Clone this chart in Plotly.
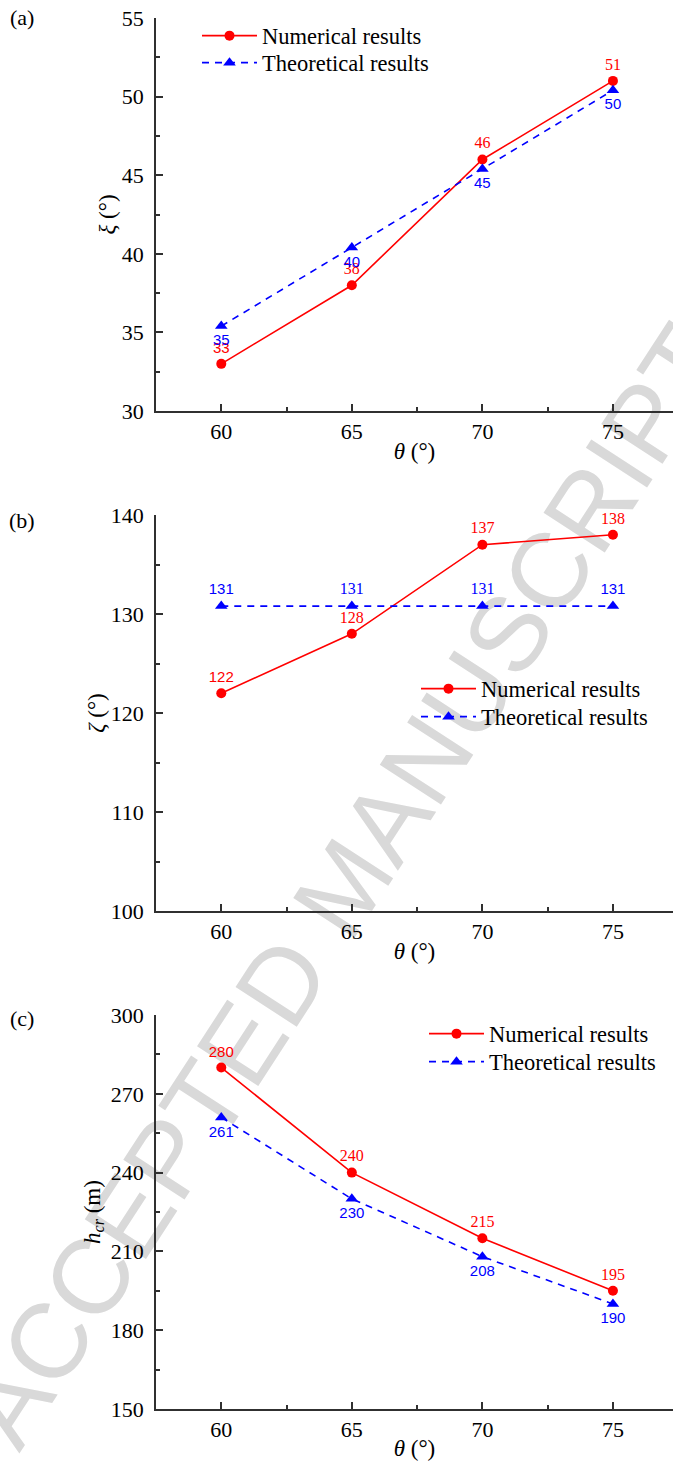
import plotly.graph_objects as go

# ---- data -------------------------------------------------------------
theta = [60, 65, 70, 75]

xi_numerical = [33, 38, 46, 51]
xi_theoretical = [35.4, 40.4, 45.4, 50.4]

zeta_numerical = [122, 128, 137, 138]
zeta_theoretical = [130.8, 130.8, 130.8, 130.8]

hcr_numerical = [280, 240, 215, 195]
hcr_theoretical = [261, 230, 208, 190]

x_tick_values = [60, 65, 70, 75]
series_names = ["Numerical results", "Theoretical results"]
panel_tags = ["(a)", "(b)", "(c)"]

# ---- styling ----------------------------------------------------------
W, H = 673, 1461
L_MARGIN = 156
PLOT_W = W - L_MARGIN
SERIF = "Liberation Serif"
SANS = "Liberation Sans"
RED = "#ff0000"
BLUE = "#0000ff"
AXIS_COLOR = "#303030"
TICK_SIZE = 22
TITLE_SIZE = 23
LEGEND_SIZE = 22.5


def px_x(px):
    return (px - L_MARGIN) / PLOT_W


def px_y(py):
    return 1 - py / H


panels = [
    dict(num=xi_numerical, theo=xi_theoretical, top=18, bottom=411,
         yrange=[30, 55], dtick=5, minor=2.5,
         ytitle="<i>ξ</i> (°)", ytitle_gap=0,
         theo_pos="bottom center",
         num_fonts=[SANS, SERIF, SERIF, SERIF],
         theo_fonts=[SANS, SANS, SANS, SANS],
         legend_x=202, legend_rows=(36, 63), tag_y=18),
    dict(num=zeta_numerical, theo=zeta_theoretical, top=515, bottom=911,
         yrange=[100, 140], dtick=10, minor=5,
         ytitle="<i>ζ</i> (°)", ytitle_gap=0,
         theo_pos="top center",
         num_fonts=[SANS, SERIF, SERIF, SERIF],
         theo_fonts=[SANS, SERIF, SERIF, SANS],
         legend_x=421, legend_rows=(689, 717), tag_y=520),
    dict(num=hcr_numerical, theo=hcr_theoretical, top=1015, bottom=1409,
         yrange=[150, 300], dtick=30, minor=15,
         ytitle="<i>h<sub>cr</sub></i> (m)", ytitle_gap=4,
         theo_pos="bottom center",
         num_fonts=[SANS, SERIF, SERIF, SERIF],
         theo_fonts=[SANS, SANS, SANS, SANS],
         legend_x=429, legend_rows=(1034, 1062), tag_y=1018),
]


def label_sizes(fonts):
    return [15 if f == SANS else 16 for f in fonts]


fig = go.Figure()
layout = dict(
    width=W, height=H,
    margin=dict(l=L_MARGIN, r=0, t=0, b=0, autoexpand=False),
    paper_bgcolor="white", plot_bgcolor="white",
    font=dict(family=SERIF, size=TICK_SIZE, color="black"),
    showlegend=True,
    annotations=[], shapes=[],
)

legend_index = 0
for i, p in enumerate(panels):
    n = "" if i == 0 else str(i + 1)
    xa, ya = "x" + n, "y" + n

    series = [
        dict(y=p["num"], name=series_names[0], color=RED, dash="solid",
             symbol="circle", size=10, pos="top center", fonts=p["num_fonts"]),
        dict(y=p["theo"], name=series_names[1], color=BLUE, dash="7px,6px",
             symbol="triangle-up", size=11, pos=p["theo_pos"],
             fonts=p["theo_fonts"]),
    ]
    for s, row_y in zip(series, p["legend_rows"]):
        legend_index += 1
        leg = "legend" if legend_index == 1 else "legend%d" % legend_index
        fig.add_trace(go.Scatter(
            x=theta, y=s["y"], xaxis=xa, yaxis=ya, legend=leg,
            name=s["name"], mode="lines+markers+text",
            line=dict(color=s["color"], width=1.6, dash=s["dash"]),
            marker=dict(symbol=s["symbol"], size=s["size"], color=s["color"]),
            texttemplate="%{y:.0f}", textposition=s["pos"],
            textfont=dict(color=s["color"], family=s["fonts"],
                          size=label_sizes(s["fonts"])),
            cliponaxis=False,
        ))
        layout[leg] = dict(
            x=px_x(p["legend_x"] - 5), y=px_y(row_y),
            xanchor="left", yanchor="middle",
            bgcolor="rgba(0,0,0,0)", borderwidth=0,
            font=dict(family=SERIF, size=LEGEND_SIZE, color="black"),
            itemwidth=55,
        )

    common = dict(
        showline=True, linecolor=AXIS_COLOR, linewidth=1.8,
        ticks="inside", ticklen=7, tickwidth=1.5, tickcolor=AXIS_COLOR,
        showgrid=False, zeroline=False,
        tickfont=dict(family=SERIF, size=TICK_SIZE, color="black"),
    )
    layout["xaxis" + n] = dict(
        common, domain=[0, 1], anchor=ya, range=[57.5, 77.3],
        tickvals=x_tick_values,
        minor=dict(dtick=2.5, tick0=57.5, ticks="inside", ticklen=4,
                   tickwidth=1.5, tickcolor=AXIS_COLOR),
        title=dict(text="<i>θ</i> (°)", standoff=0,
                   font=dict(family=SERIF, size=TITLE_SIZE)),
        ticklabelstandoff=0,
    )
    layout["yaxis" + n] = dict(
        common, domain=[px_y(p["bottom"]), px_y(p["top"])], anchor=xa,
        range=p["yrange"], dtick=p["dtick"], tick0=p["yrange"][0],
        minor=dict(dtick=p["minor"], ticks="inside", ticklen=4,
                   tickwidth=1.5, tickcolor=AXIS_COLOR),
        title=dict(text=p["ytitle"], standoff=p["ytitle_gap"],
                   font=dict(family=SERIF, size=TITLE_SIZE)),
        ticklabelstandoff=6,
    )
    layout["annotations"].append(dict(
        text=panel_tags[i], xref="paper", yref="paper",
        x=px_x(22), y=px_y(p["tag_y"]), xanchor="center", yanchor="middle",
        showarrow=False, font=dict(family=SERIF, size=TICK_SIZE, color="black"),
    ))

# diagonal watermark, kept beneath the data
cx, cy = px_x(336), px_y(880)
layout["shapes"].append(dict(
    type="rect", xref="paper", yref="paper",
    x0=cx - 0.01, x1=cx + 0.01, y0=cy - 0.005, y1=cy + 0.005,
    line=dict(width=0), fillcolor="rgba(0,0,0,0)", layer="below",
    label=dict(text="ACCEPTED MANUSCRIPT", textangle=-57,
               textposition="middle center",
               font=dict(family=SANS, size=106, color="#d9d9d9")),
))

fig.update_layout(**layout)
fig.write_html("out.html")
